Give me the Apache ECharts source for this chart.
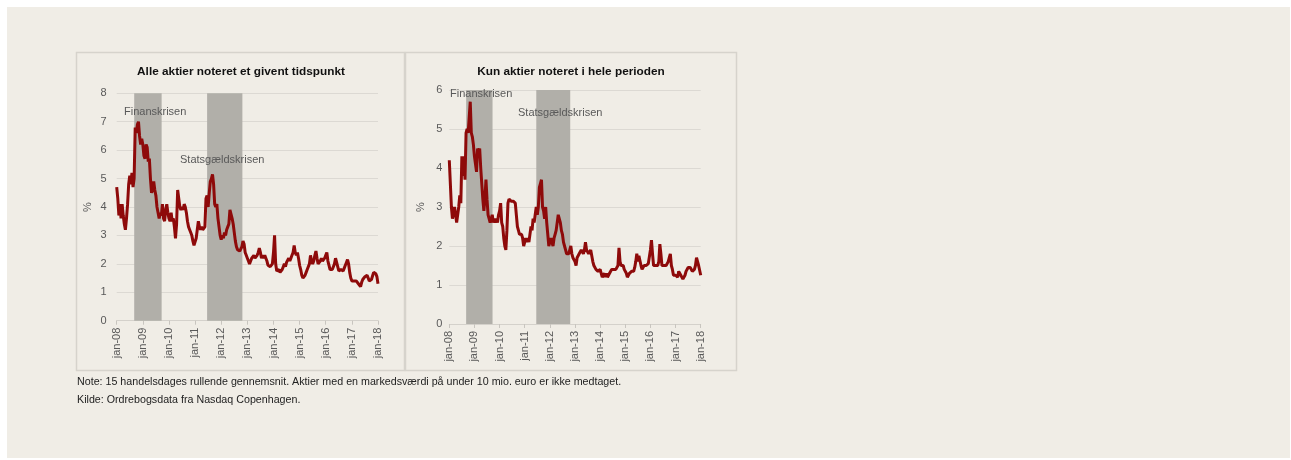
<!DOCTYPE html>
<html>
<head>
<meta charset="utf-8">
<script src="https://cdn.jsdelivr.net/npm/echarts@6/dist/echarts.min.js"></script>
<style>
  html, body { margin: 0; padding: 0; background: #ffffff; }
  #panel { position: absolute; left: 7px; top: 7px; width: 1283px; height: 451px; background: #f0ede6; }
  #chart { position: absolute; left: 0; top: 0; width: 1291px; height: 460px; }
</style>
</head>
<body>
<div id="panel"></div>
<div id="chart"></div>
<script>
// Half-monthly observations (24 per year) from jan-08 to jan-18, in %
const yearLabels = ['jan-08','jan-09','jan-10','jan-11','jan-12','jan-13','jan-14','jan-15','jan-16','jan-17','jan-18'];

// Left panel: all stocks listed at a given point in time
const allStocks = [
  4.7,4.3,3.7,4.1,3.6,4.1,3.7,3.4,3.2,3.6,4.1,4.8,5.1,4.8,5.2,4.7,5.0,6.8,6.6,6.9,7.0,6.5,6.2,6.4,
  6.2,5.8,5.7,6.2,6.1,5.6,5.7,5.0,4.5,4.6,4.9,4.6,4.4,4.0,3.8,3.6,3.8,3.7,4.1,3.6,3.5,3.9,4.1,3.8,
  3.6,3.5,3.8,3.5,3.6,3.3,2.9,3.4,4.6,4.3,4.0,3.9,4.0,3.9,4.1,4.0,3.8,3.5,3.3,3.2,3.1,3.0,2.8,2.65,
  2.7,2.9,3.2,3.5,3.3,3.2,3.3,3.2,3.2,3.3,4.3,4.4,4.0,4.5,4.9,5.0,5.15,4.8,4.1,4.0,4.1,3.6,3.3,3.0,
  2.85,3.0,2.9,3.1,3.0,3.2,3.3,3.4,3.9,3.9,3.6,3.4,3.1,2.8,2.6,2.5,2.5,2.45,2.5,2.6,2.8,2.7,2.4,2.3,
  2.2,2.1,2.0,2.1,2.2,2.2,2.3,2.2,2.25,2.3,2.4,2.55,2.4,2.2,2.3,2.2,2.3,2.2,2.1,1.95,1.9,1.9,1.85,2.0,
  2.4,3.0,2.0,1.75,1.7,1.8,1.7,1.65,1.8,1.9,2.0,1.9,2.05,2.1,2.2,2.1,2.2,2.3,2.4,2.65,2.4,2.3,2.4,2.2,
  1.95,1.8,1.6,1.5,1.55,1.6,1.7,1.8,1.85,2.0,2.3,2.1,2.0,2.1,2.3,2.45,2.2,2.0,1.95,2.1,2.2,2.1,2.1,2.2,
  2.3,2.4,2.1,1.95,1.8,1.75,1.8,1.9,2.0,2.2,2.25,1.9,1.75,1.75,1.8,1.75,1.75,1.85,1.95,2.05,2.15,2.0,1.7,1.5,
  1.4,1.35,1.4,1.35,1.4,1.35,1.3,1.25,1.2,1.35,1.45,1.5,1.55,1.55,1.6,1.55,1.4,1.4,1.45,1.5,1.7,1.75,1.65,1.55,
  1.3
];

// Right panel: only stocks listed during the whole period
const fullPeriod = [
  4.2,3.6,3.0,2.7,2.7,3.0,2.8,2.6,2.55,3.0,3.3,3.1,4.3,3.8,4.3,3.7,4.9,5.0,4.9,5.3,5.7,4.9,4.8,4.6,
  4.3,4.1,3.9,4.5,4.4,4.5,4.0,3.6,3.2,2.9,3.2,3.7,3.2,2.8,2.7,2.6,2.7,2.8,2.6,2.7,2.6,2.7,2.6,2.8,
  2.9,3.1,2.6,2.5,2.2,2.0,1.9,2.4,3.1,3.2,3.2,3.15,3.1,3.15,3.1,3.1,2.8,2.5,2.4,2.3,2.3,2.3,2.2,2.0,
  2.1,2.2,2.1,2.2,2.1,2.3,2.5,2.4,2.7,2.6,2.8,3.0,2.8,3.0,3.5,3.6,3.7,3.0,2.9,2.7,3.0,2.6,2.3,2.0,
  2.0,2.2,2.1,2.0,2.2,2.3,2.4,2.6,2.8,2.75,2.6,2.4,2.3,2.1,2.0,1.9,1.8,1.75,1.8,1.9,2.0,1.8,1.7,1.65,
  1.6,1.5,1.7,1.75,1.8,1.85,1.9,1.85,1.8,1.9,2.1,1.9,1.85,1.8,1.85,1.9,1.75,1.6,1.5,1.45,1.4,1.35,1.35,1.4,
  1.4,1.3,1.2,1.25,1.3,1.2,1.3,1.2,1.25,1.3,1.35,1.4,1.4,1.4,1.45,1.4,1.45,1.5,1.95,1.6,1.5,1.55,1.5,1.4,
  1.35,1.3,1.2,1.25,1.3,1.3,1.35,1.3,1.35,1.45,1.6,1.8,1.6,1.75,1.7,1.5,1.4,1.45,1.5,1.55,1.5,1.55,1.55,1.6,
  1.9,2.15,1.8,1.5,1.45,1.5,1.45,1.5,1.6,2.05,1.8,1.5,1.45,1.5,1.45,1.5,1.55,1.6,1.7,1.8,1.5,1.4,1.25,1.2,
  1.25,1.3,1.2,1.35,1.3,1.25,1.2,1.15,1.2,1.25,1.35,1.4,1.45,1.4,1.45,1.4,1.35,1.3,1.4,1.5,1.7,1.65,1.5,1.45,
  1.25
];

// Crisis periods (decimal years)
const crises = [
  { name: 'Finanskrisen', start: 2008.67, end: 2009.72 },
  { name: 'Statsgældskrisen', start: 2011.46, end: 2012.81 }
];

const titles = ['Alle aktier noteret et givent tidspunkt', 'Kun aktier noteret i hele perioden'];
const noteText = 'Note: 15 handelsdages rullende gennemsnit. Aktier med en markedsværdi på under 10 mio. euro er ikke medtaget.';
const sourceText = 'Kilde: Ordrebogsdata fra Nasdaq Copenhagen.';

const toIdx = y => (y - 2008) * 24;
const FONT = 'Liberation Sans, Arial, sans-serif';
const axisGrey = '#595959';

function xAxisCfg(gi) {
  return {
    type: 'value', gridIndex: gi, min: 0, max: 240, interval: 24,
    axisLine: { show: true, onZero: false, lineStyle: { color: '#d4d1cb', width: 1 } },
    axisTick: { show: true, length: 4, lineStyle: { color: '#c8c5bf' } },
    splitLine: { show: false },
    axisLabel: { rotate: 90, color: axisGrey, fontFamily: FONT, fontSize: 11, margin: 7,
      formatter: v => yearLabels[Math.round(v / 24)] }
  };
}
function yAxisCfg(gi, max, margin, nameGap) {
  return {
    type: 'value', gridIndex: gi, min: 0, max: max, interval: 1,
    name: '%', nameLocation: 'middle', nameGap: nameGap, nameRotate: 90,
    nameTextStyle: { color: axisGrey, fontFamily: FONT, fontSize: 11 },
    axisLine: { show: false }, axisTick: { show: false },
    splitLine: { show: true, lineStyle: { color: '#dcd9d3', width: 1.2 } },
    axisLabel: { color: axisGrey, fontFamily: FONT, fontSize: 11, margin: margin }
  };
}
function seriesCfg(gi, values) {
  return {
    type: 'line', xAxisIndex: gi, yAxisIndex: gi,
    data: values.map((v, i) => [i, v]),
    showSymbol: false, symbol: 'none',
    lineStyle: { color: '#8e0a0a', width: 3 },
    itemStyle: { color: '#8e0a0a' },
    z: 3,
    markArea: {
      silent: true,
      itemStyle: { color: '#b1afa9', opacity: 1 },
      data: crises.map(c => [{ xAxis: toIdx(c.start) }, { xAxis: toIdx(c.end) }])
    }
  };
}

const chart = echarts.init(document.getElementById('chart'), null, { renderer: 'canvas' });
const txt = (x, y, text, extra) => ({ type: 'text', left: x, top: y, z: 10,
  style: Object.assign({ text: text, fill: axisGrey, font: '11px ' + FONT }, extra || {}) });

chart.setOption({
  backgroundColor: 'transparent',
  animation: false,
  grid: [
    { left: 116.7, top: 93.3, width: 261.3, height: 227.4, containLabel: false },
    { left: 449.3, top: 90, width: 251.4, height: 234, containLabel: false }
  ],
  xAxis: [xAxisCfg(0), xAxisCfg(1)],
  yAxis: [yAxisCfg(0, 8, 10, 23), yAxisCfg(1, 6, 7, 23)],
  series: [seriesCfg(0, allStocks), seriesCfg(1, fullPeriod)],
  graphic: [
    { type: 'rect', shape: { x: 76.5, y: 52.5, width: 328, height: 318 }, style: { fill: 'none', stroke: '#d6d3cc', lineWidth: 1.5 }, z: 0 },
    { type: 'rect', shape: { x: 405.5, y: 52.5, width: 331, height: 318 }, style: { fill: 'none', stroke: '#d6d3cc', lineWidth: 1.5 }, z: 0 },
    { type: 'text', x: 241, y: 66, z: 10, style: { text: titles[0], fill: '#111', font: 'bold 11.8px ' + FONT, textAlign: 'center' } },
    { type: 'text', x: 571, y: 66, z: 10, style: { text: titles[1], fill: '#111', font: 'bold 11.8px ' + FONT, textAlign: 'center' } },
    txt(124, 106, crises[0].name),
    txt(180, 154, crises[1].name),
    txt(450, 88, crises[0].name),
    txt(518, 107, crises[1].name),
    txt(77, 377, noteText, { fill: '#222', font: '10.7px ' + FONT }),
    txt(77, 395, sourceText, { fill: '#222', font: '10.7px ' + FONT })
  ]
});
</script>
</body>
</html>
